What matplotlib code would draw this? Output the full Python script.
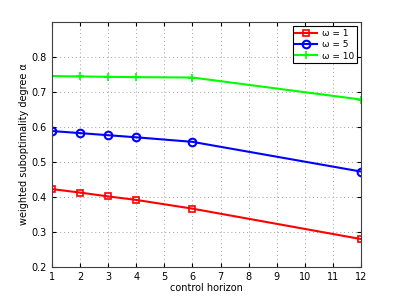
import numpy as np
import matplotlib.pyplot as plt

fontsize = 7

horizon = [1, 2, 3, 4, 6, 12]
alpha_w1 = [0.422, 0.412, 0.401, 0.391, 0.366, 0.279]
alpha_w5 = [0.588, 0.582, 0.576, 0.570, 0.557, 0.472]
alpha_w10 = [0.745, 0.744, 0.743, 0.742, 0.741, 0.678]
labels = ["\u03c9 = 1", "\u03c9 = 5", "\u03c9 = 10"]

fig = plt.figure(figsize=(3.99, 3.0), dpi=100)
ax = fig.add_axes([0.130, 0.111, 0.775, 0.816])

ax.plot(horizon, alpha_w1, color="red", lw=1.5, marker="s", ms=5,
        mfc="none", mew=1.2, label=labels[0])
ax.plot(horizon, alpha_w5, color="blue", lw=1.5, marker="o", ms=5.5,
        mfc="none", mew=1.5, label=labels[1])
ax.plot(horizon, alpha_w10, color="lime", lw=1.5, marker="+", ms=6,
        mew=1.2, label=labels[2])

ax.set_xlim(1, 12)
ax.set_ylim(0.2, 0.9)
ax.set_xticks(range(1, 13))
ax.set_yticks([0.2, 0.3, 0.4, 0.5, 0.6, 0.7, 0.8])
ax.grid(True, ls=(0, (1, 3)), color="#a0a0a0", lw=0.7)
ax.tick_params(direction="in", labelsize=fontsize, length=3, top=True, right=True)
for s in ax.spines.values():
    s.set_color("#404040")

ax.set_xlabel("control horizon", fontsize=fontsize, labelpad=1)
ax.set_ylabel("weighted suboptimality degree \u03b1", fontsize=fontsize, labelpad=2)

leg = ax.legend(loc="upper right", fontsize=6.5, fancybox=False,
                framealpha=1, edgecolor="black", borderaxespad=0.5,
                handlelength=2.4, labelspacing=0.25, borderpad=0.3,
                handletextpad=0.5)
leg.get_frame().set_linewidth(0.8)

fig.savefig("out.png", dpi=100)
